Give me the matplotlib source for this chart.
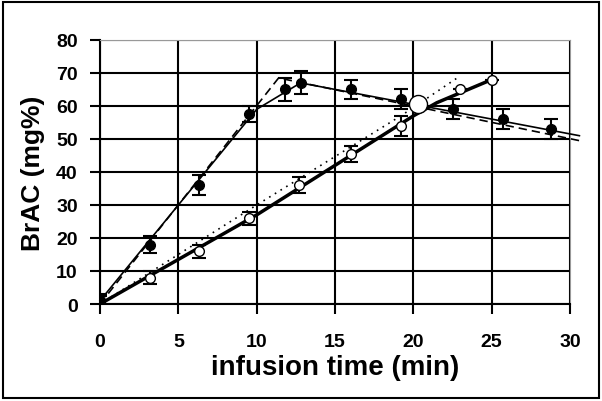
import numpy as np
import matplotlib.pyplot as plt
from matplotlib.patches import Rectangle

# filled symbols (measured)
t_fill = [0, 3.2, 6.3, 9.5, 11.8, 12.8, 16.0, 19.2, 22.5, 25.7, 28.8]
y_fill = [1, 18, 36, 57.5, 65, 67, 65, 62, 59, 56, 53]
e_fill = [2, 2.5, 3, 2.5, 3.5, 3.5, 3, 3, 3, 3, 3]

# open symbols (measured)
t_open = [0, 3.2, 6.3, 9.5, 12.7, 16.0, 19.2, 23.0, 25.0]
y_open = [0.5, 8, 16, 26, 36, 45.5, 54, 65, 68]
e_open = [2, 2, 2, 2, 2.5, 2.5, 3, 0, 0]

# big open circle
t_big = [20.3]
y_big = [60.5]

# model curves
fit_fill_t = [0, 10, 12.8, 30.6]
fit_fill_y = [1, 59, 67, 51]
dash_fill_t = [0, 11.4, 30.6]
dash_fill_y = [0, 68.5, 49.5]
fit_open_t = [0, 10, 20, 21.5, 25]
fit_open_y = [0, 27, 57, 61, 68]
dot_open_t = [0, 10, 19.2, 22.8]
dot_open_y = [0, 30, 57, 68.5]

plt.rcParams['font.family'] = ['Liberation Sans', 'DejaVu Sans']
plt.rcParams['font.weight'] = 'bold'

fig = plt.figure(figsize=(6.02, 4.02), dpi=100)
ax = fig.add_axes([100/602, 1-305/402, 470/602, 264/402])

ax.plot(fit_fill_t, fit_fill_y, color='black', lw=1.2, zorder=3, clip_on=False)
ax.plot(dash_fill_t, dash_fill_y, color='black', lw=1.2, ls=(0, (5, 3)), zorder=3,
        clip_on=False)
ax.plot(fit_open_t, fit_open_y, color='black', lw=2.5, zorder=3)
ax.plot(dot_open_t, dot_open_y, color='black', lw=1.2, ls=(0, (1, 3)), zorder=3)

ax.errorbar(t_fill, y_fill, yerr=e_fill, fmt='o', color='black', mfc='black',
            ms=7, capsize=5, elinewidth=1.5, capthick=1.5, zorder=5)
ax.errorbar(t_open, y_open, yerr=e_open, fmt='o', color='black', mfc='white',
            ms=7, capsize=5, elinewidth=1.5, capthick=1.5, zorder=4)
ax.plot(t_big, y_big, 'o', mfc='white', mec='black', ms=13, zorder=6)

ax.set_xlim(0, 30)
ax.set_ylim(0, 80)
ax.set_xticks(np.arange(0, 31, 5))
ax.set_yticks(np.arange(0, 81, 10))
ax.grid(True, color='black', lw=1.5)
ax.set_axisbelow(True)
ax.tick_params(direction='out', length=7, width=1.5, labelsize=14)
ax.tick_params(axis='x', pad=14)
ax.tick_params(axis='y', pad=9)
for s in ['top', 'right']:
    ax.spines[s].set_color('#999999')
for s in ['left', 'bottom']:
    ax.spines[s].set_linewidth(1.5)

ax.set_xlabel('infusion time (min)', fontsize=20, fontweight='bold', labelpad=3)
ax.set_ylabel('BrAC (mg%)', fontsize=19, fontweight='bold', labelpad=8)

fig.patches.append(Rectangle((3/602, 3/402), 596/602, 396/402, transform=fig.transFigure,
                             fill=False, edgecolor='black', lw=1.5))

fig.savefig('out.png', dpi=100)
